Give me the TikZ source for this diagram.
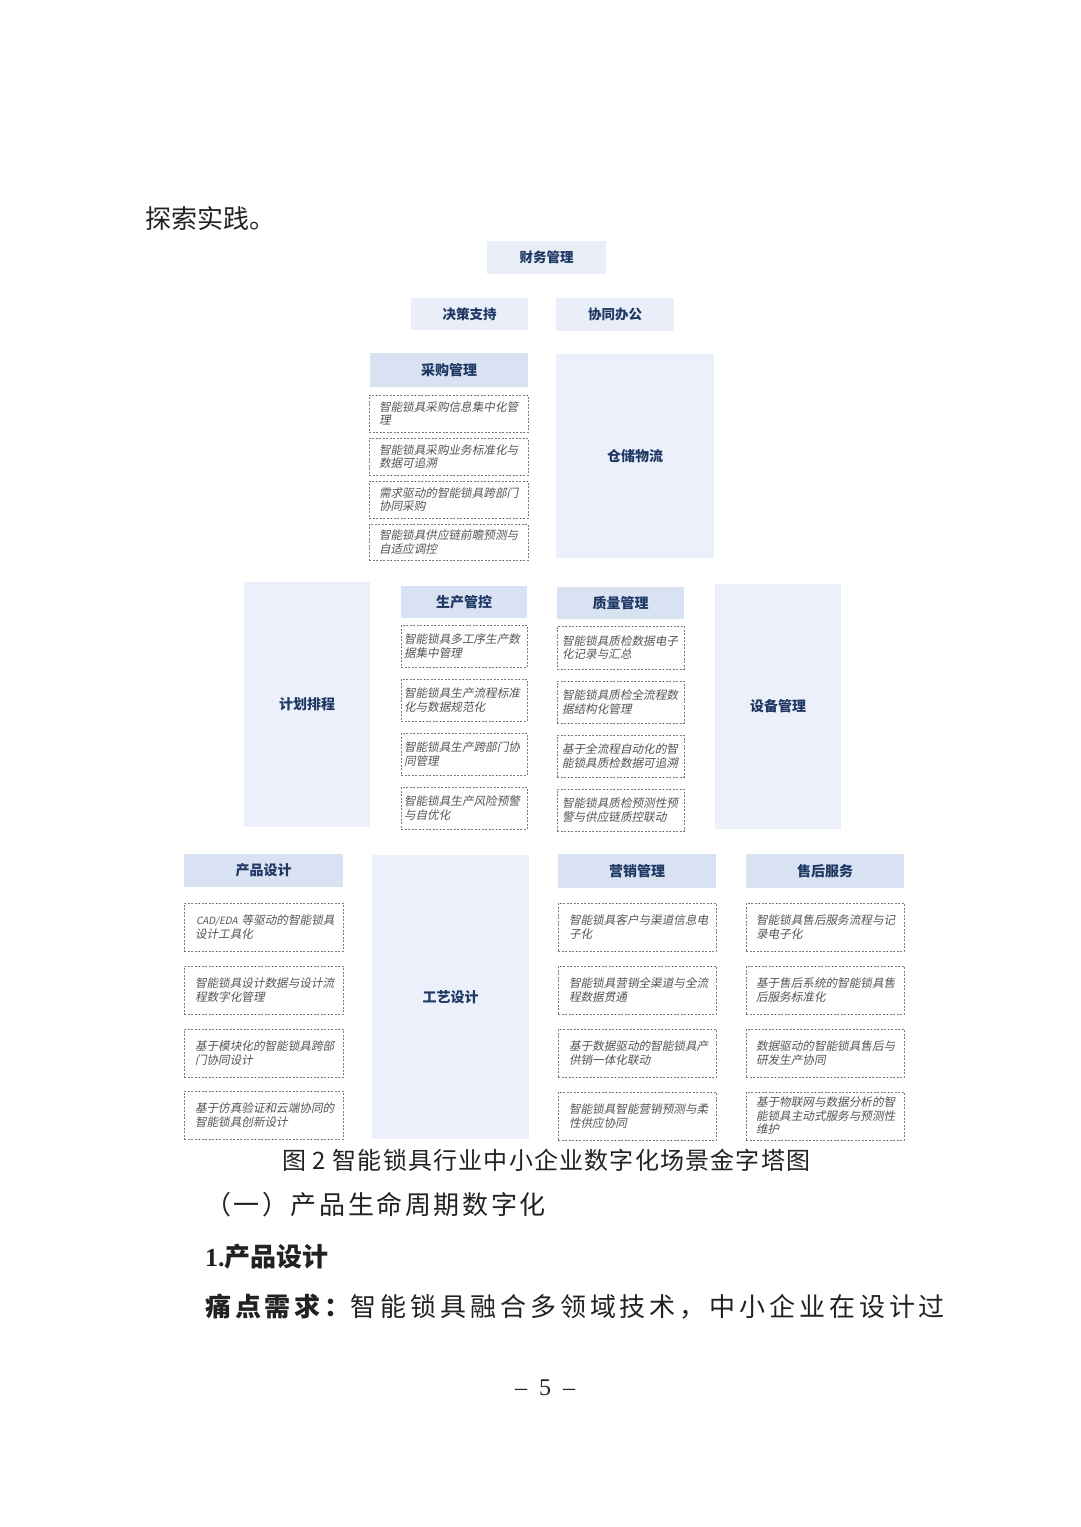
\documentclass[tikz,border=0pt]{standalone}
\usepackage{fontspec}
\newfontfamily\cjk{Noto Sans CJK SC}
\newfontfamily\cjkit{Noto Sans CJK SC}[FakeSlant=0.2]
\newfontfamily\lserif{Liberation Serif}
\definecolor{topfill}{HTML}{E9EEF8}
\definecolor{hdrfill}{HTML}{D9E2F3}
\definecolor{bigfill}{HTML}{ECF0FA}
\definecolor{navy}{HTML}{1F3864}
\definecolor{itemtext}{HTML}{555555}
\definecolor{dashcol}{HTML}{7A7A7A}
\definecolor{bodytext}{HTML}{222222}
\tikzset{
  topbox/.style={fill=topfill, draw=none, text=navy, font=\cjk\bfseries\fontsize{13.5}{15}\selectfont, inner sep=0pt},
  hdrbox/.style={fill=hdrfill, draw=none, text=navy, font=\cjk\bfseries\fontsize{14}{16}\selectfont, inner sep=0pt},
  bigbox/.style={fill=bigfill, draw=none, text=navy, font=\cjk\bfseries\fontsize{14}{16}\selectfont, inner sep=0pt},
  itembox/.style={fill=white, draw=dashcol, line width=0.6pt, dash pattern=on 2pt off 1.5pt, text=itemtext, font=\cjkit\fontsize{11.6}{13.5}\selectfont, align=left, inner ysep=0pt},
  bodytxt/.style={text=bodytext, font=\cjk\fontsize{26}{30}\selectfont, anchor=west, inner sep=0pt}
}
\newcommand{\bx}[7]{\node[#1, minimum width={(#5-#3)*1pt}, minimum height={(#6-#4)*1pt}] (#2) at ({(#3+#5)/2},{(#4+#6)/2}) {#7};}
% \itm{xsep}{name}{x1}{y1}{x2}{y2}{text}
\newcommand{\itm}[7]{\node[itembox, inner xsep={#1*1pt}, text width={(#5-#3-2*#1)*1pt}, minimum width={(#5-#3)*1pt}, minimum height={(#6-#4)*1pt}] (#2) at ({(#3+#5)/2},{(#4+#6)/2}) {#7};}
\begin{document}
\begin{tikzpicture}[x=1pt,y=-1pt]
\useasboundingbox (0,0) rectangle (1080,1527);
\fill[white] (0,0) rectangle (1080,1527);

% body text above
\node[bodytxt] (intro) at (145,218) {探索实践。};

% top
\bx{topbox}{fin}{487}{241}{606}{274}{财务管理}
\bx{topbox}{dec}{411}{298}{528}{330}{决策支持}
\bx{topbox}{off}{556}{298}{674}{331}{协同办公}

% purchasing
\bx{hdrbox}{pur}{370}{353}{528}{387}{采购管理}
\itm{10}{pur1}{369}{395}{528}{432}{智能锁具采购信息集中化管\\理}
\itm{10}{pur2}{369}{438}{528}{475}{智能锁具采购业务标准化与\\数据可追溯}
\itm{10}{pur3}{369}{481}{528}{518}{需求驱动的智能锁具跨部门\\协同采购}
\itm{10}{pur4}{369}{524}{528}{560}{智能锁具供应链前瞻预测与\\自适应调控}
\bx{bigbox}{wh}{556}{354}{714}{558}{仓储物流}

% middle
\bx{bigbox}{plan}{244}{582}{370}{827}{计划排程}
\bx{hdrbox}{prod}{401}{586}{527}{618}{生产管控}
\itm{3}{prod1}{401}{625}{527}{667}{智能锁具多工序生产数\\据集中管理}
\itm{3}{prod2}{401}{679}{527}{721}{智能锁具生产流程标准\\化与数据规范化}
\itm{3}{prod3}{401}{733}{527}{775}{智能锁具生产跨部门协\\同管理}
\itm{3}{prod4}{401}{787}{527}{829}{智能锁具生产风险预警\\与自优化}
\bx{hdrbox}{qual}{557}{587}{684}{619}{质量管理}
\itm{5}{qual1}{557}{626}{684}{669}{智能锁具质检数据电子\\化记录与汇总}
\itm{5}{qual2}{557}{681}{684}{723}{智能锁具质检全流程数\\据结构化管理}
\itm{5}{qual3}{557}{735}{684}{777}{基于全流程自动化的智\\能锁具质检数据可追溯}
\itm{5}{qual4}{557}{789}{684}{831}{智能锁具质检预测性预\\警与供应链质控联动}
\bx{bigbox}{equip}{715}{584}{841}{829}{设备管理}

% bottom
\bx{hdrbox}{pd}{184}{854}{343}{887}{产品设计}
\itm{11}{pd1}{184}{903}{343}{951}{\mbox{\hspace*{1pt}{\fontsize{10}{13}\selectfont CAD/EDA} 等驱动的智能锁具}\\设计工具化}
\itm{11}{pd2}{184}{966}{343}{1014}{智能锁具设计数据与设计流\\程数字化管理}
\itm{11}{pd3}{184}{1029}{343}{1077}{基于模块化的智能锁具跨部\\门协同设计}
\itm{11}{pd4}{184}{1091}{343}{1139}{基于仿真验证和云端协同的\\智能锁具创新设计}
\bx{bigbox}{proc}{372}{855}{529}{1139}{工艺设计}
\bx{hdrbox}{mkt}{558}{854}{716}{888}{营销管理}
\itm{11}{mkt1}{558}{903}{716}{951}{智能锁具客户与渠道信息电\\子化}
\itm{11}{mkt2}{558}{966}{716}{1014}{智能锁具营销全渠道与全流\\程数据贯通}
\itm{11}{mkt3}{558}{1029}{716}{1077}{基于数据驱动的智能锁具产\\供销一体化联动}
\itm{11}{mkt4}{558}{1092}{716}{1140}{智能锁具智能营销预测与柔\\性供应协同}
\bx{hdrbox}{svc}{746}{854}{904}{888}{售后服务}
\itm{10}{svc1}{746}{903}{904}{951}{智能锁具售后服务流程与记\\录电子化}
\itm{10}{svc2}{746}{966}{904}{1014}{基于售后系统的智能锁具售\\后服务标准化}
\itm{10}{svc3}{746}{1029}{904}{1077}{数据驱动的智能锁具售后与\\研发生产协同}
\itm{10}{svc4}{746}{1092}{904}{1140}{基于物联网与数据分析的智\\能锁具主动式服务与预测性\\维护}

% text below
\node[bodytxt, font=\cjk\fontsize{24}{28}\selectfont\addfontfeatures{LetterSpace=5}] (cap) at (282,1160) {图 2 智能锁具行业中小企业数字化场景金字塔图};
\node[bodytxt, font=\cjk\fontsize{26}{30}\selectfont\addfontfeatures{LetterSpace=10}] (sec) at (205,1205) {（一）产品生命周期数字化};
\node[bodytxt, font=\cjk\bfseries\fontsize{26}{30}\selectfont] (h1) at (205,1257) {{\lserif\bfseries 1.}产品设计};
\node[bodytxt, font=\cjk\fontsize{26}{30}\selectfont\addfontfeatures{LetterSpace=15}] (para) at (205,1307) {{\bfseries 痛点需求：}智能锁具融合多领域技术，中小企业在设计过};
\node[bodytxt, anchor=center, font=\lserif\fontsize{24}{28}\selectfont] (page) at (545,1388) {–\hspace{12pt}5\hspace{12pt}–};
\end{tikzpicture}
\end{document}
